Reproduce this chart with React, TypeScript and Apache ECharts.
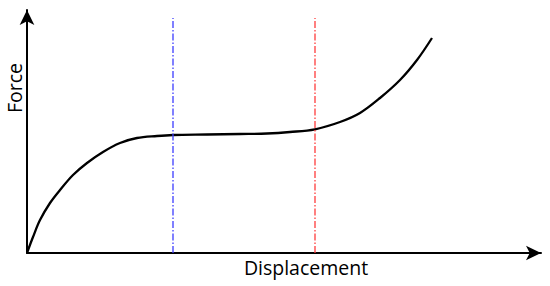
import React, { useEffect, useRef } from "react";
import * as echarts from "echarts";

const curveX = [0, 6, 13, 23, 33, 46, 60, 76, 93, 110, 130, 146, 180, 213, 240, 263, 288, 313, 333, 353, 373, 390, 405];
const curveY = [0, 16, 33, 50, 63, 78, 90, 101, 110, 115, 117, 118, 118.5, 119, 119.5, 121, 123.7, 131, 140, 155, 173, 193, 215];
const blueX = 146;
const redX = 288;
const lineTop = 235;
const xLabel = "Displacement";
const yLabel = "Force";

export default function App() {
  const ref = useRef<HTMLDivElement>(null);
  useEffect(() => {
    const chart = echarts.init(ref.current!, null, { renderer: "svg" });
    chart.setOption({
      animation: false,
      grid: { left: 27, right: 9, top: 10, bottom: 33 },
      xAxis: {
        type: "value",
        min: 0,
        max: 514,
        splitLine: { show: false },
        axisTick: { show: false },
        axisLabel: { show: false },
        axisLine: { show: true, lineStyle: { color: "#000", width: 2 }, symbol: ["none", "arrow"], symbolSize: [11, 15] },
      },
      yAxis: {
        type: "value",
        min: 0,
        max: 243,
        splitLine: { show: false },
        axisTick: { show: false },
        axisLabel: { show: false },
        axisLine: { show: true, lineStyle: { color: "#000", width: 2 }, symbol: ["none", "arrow"], symbolSize: [11, 15] },
      },
      series: [
        {
          type: "line",
          data: curveX.map((x, i) => [x, curveY[i]]),
          smooth: 0.35,
          showSymbol: false,
          lineStyle: { color: "#000", width: 2.3 },
        },
        {
          type: "line",
          data: [[blueX, 0], [blueX, lineTop]],
          showSymbol: false,
          lineStyle: { color: "#3b3bff", width: 1.3, type: [7, 2, 1.5, 2] },
        },
        {
          type: "line",
          data: [[redX, 0], [redX, lineTop]],
          showSymbol: false,
          lineStyle: { color: "#ff3b3b", width: 1.3, type: [7, 2, 1.5, 2] },
        },
      ],
      graphic: [
        {
          type: "text",
          x: 306,
          y: 267,
          style: { text: xLabel, font: "19.5px 'Open Sans'", fill: "#000", textAlign: "center", textVerticalAlign: "middle" },
        },
        {
          type: "text",
          x: 14,
          y: 88,
          rotation: Math.PI / 2,
          style: { text: yLabel, font: "19.5px 'Open Sans'", fill: "#000", textAlign: "center", textVerticalAlign: "middle" },
        },
      ],
    });
    return () => chart.dispose();
  }, []);
  return <div ref={ref} style={{ width: 550, height: 286, position: "absolute", left: 0, top: 0 }} />;
}
